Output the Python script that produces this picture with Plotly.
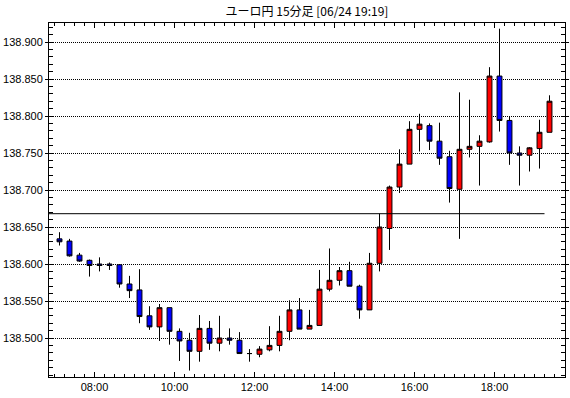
import pandas as pd
import plotly.graph_objects as go

title_text = "ユーロ円 15分足 [06/24 19:19]"
session_date = "2024-06-24"
first_bar = "07:00"
bar_minutes = 15
n_bars = 50

open_ = [138.634, 138.631, 138.612, 138.605, 138.600, 138.600, 138.599, 138.573, 138.565, 138.530,
         138.515, 138.541, 138.509, 138.497, 138.482, 138.513, 138.493, 138.500, 138.497, 138.479,
         138.478, 138.484, 138.490, 138.509, 138.538, 138.512, 138.517, 138.566, 138.578, 138.591,
         138.570, 138.538, 138.601, 138.648, 138.704, 138.735, 138.782, 138.787, 138.766, 138.745,
         138.701, 138.755, 138.759, 138.765, 138.854, 138.794, 138.750, 138.747, 138.756, 138.778]
high = [138.643, 138.634, 138.615, 138.606, 138.609, 138.602, 138.599, 138.584, 138.593, 138.543,
        138.546, 138.541, 138.513, 138.507, 138.531, 138.523, 138.530, 138.513, 138.508, 138.485,
        138.489, 138.516, 138.530, 138.551, 138.554, 138.538, 138.592, 138.621, 138.596, 138.603,
        138.572, 138.615, 138.668, 138.706, 138.755, 138.793, 138.803, 138.790, 138.791, 138.753,
        138.832, 138.822, 138.774, 138.866, 138.918, 138.799, 138.759, 138.758, 138.795, 138.828]
low = [138.625, 138.610, 138.603, 138.583, 138.590, 138.592, 138.568, 138.554, 138.520, 138.511,
       138.496, 138.491, 138.469, 138.456, 138.468, 138.484, 138.482, 138.491, 138.479, 138.468,
       138.474, 138.482, 138.482, 138.497, 138.512, 138.512, 138.517, 138.563, 138.571, 138.570,
       138.526, 138.538, 138.590, 138.619, 138.696, 138.735, 138.752, 138.754, 138.734, 138.683,
       138.634, 138.744, 138.706, 138.764, 138.779, 138.734, 138.706, 138.725, 138.729, 138.778]
close = [138.630, 138.611, 138.604, 138.598, 138.598, 138.598, 138.573, 138.564, 138.529, 138.515,
         138.541, 138.509, 138.496, 138.482, 138.513, 138.493, 138.500, 138.497, 138.479, 138.479,
         138.485, 138.490, 138.509, 138.538, 138.512, 138.517, 138.566, 138.578, 138.591, 138.570,
         138.538, 138.601, 138.650, 138.704, 138.735, 138.782, 138.789, 138.766, 138.743, 138.702,
         138.755, 138.759, 138.766, 138.854, 138.794, 138.750, 138.747, 138.757, 138.778, 138.820]
ref_level = 138.668

y_range = [138.4473, 138.9257]
y_tickvals = [138.500, 138.550, 138.600, 138.650, 138.700, 138.750, 138.800, 138.850, 138.900]
y_minor = 0.01
x_view = ["2024-06-24 06:51:45", "2024-06-24 19:45:45"]
x_tick0 = "2024-06-24 08:00"

bar_start = pd.date_range(f"{session_date} {first_bar}", periods=n_bars, freq=f"{bar_minutes}min")
bar_center = bar_start + pd.Timedelta(minutes=bar_minutes / 2)

fig = go.Figure()
fig.add_trace(go.Candlestick(
    x=bar_center, open=open_, high=high, low=low, close=close,
    increasing=dict(fillcolor="#ff0000", line=dict(color="#000000", width=1)),
    decreasing=dict(fillcolor="#0000ff", line=dict(color="#000000", width=1)),
    whiskerwidth=0, hoverinfo="skip", showlegend=False,
))

fig.add_shape(type="line", xref="x", yref="y",
              x0=x_view[0], x1=bar_start[-1], y0=ref_level, y1=ref_level,
              line=dict(color="#000000", width=1))

tick_font = dict(family="Liberation Sans, Arial, sans-serif", size=11, color="#000000")

fig.update_layout(
    width=570, height=398, autosize=False,
    margin=dict(l=49, r=5, t=23, b=21, pad=0, autoexpand=False),
    paper_bgcolor="#ffffff", plot_bgcolor="#ffffff",
    showlegend=False,
    boxgap=0.3,
    title=dict(text=title_text, x=0.5, xref="paper", xanchor="center",
               y=1 - 12 / 398, yref="container", yanchor="middle",
               font=dict(family="Noto Sans CJK JP, sans-serif", size=12, color="#000000")),
    xaxis=dict(
        type="date", range=x_view, rangeslider=dict(visible=False), automargin=False,
        tick0=x_tick0, dtick=2 * 3600 * 1000, tickformat="%H:%M",
        ticks="inside", ticklen=5, tickcolor="#000000", tickwidth=1,
        minor=dict(dtick=bar_minutes * 60 * 1000, tick0=x_tick0, ticks="inside",
                   ticklen=3, tickcolor="#000000", tickwidth=1, showgrid=False),
        showgrid=False, zeroline=False,
        showline=True, linecolor="#000000", linewidth=1, mirror="allticks",
        tickfont=tick_font,
    ),
    yaxis=dict(
        range=y_range, tickmode="array", tickvals=y_tickvals, tickformat=".3f",
        automargin=False,
        ticks="outside", ticklen=3, tickcolor="#000000", tickwidth=1,
        minor=dict(tickmode="linear", dtick=y_minor, tick0=y_tickvals[0], ticks="inside",
                   ticklen=4, tickcolor="#000000", tickwidth=1, showgrid=False),
        showgrid=True, gridcolor="#000000", gridwidth=1, griddash="1px,1px",
        zeroline=False,
        showline=True, linecolor="#000000", linewidth=1, mirror="allticks",
        tickfont=tick_font,
    ),
)

page_fix = "document.body.style.margin='0';document.body.style.overflow='hidden';"
fig.write_html("out.html", config={"responsive": False, "displayModeBar": False},
               post_script=page_fix)
